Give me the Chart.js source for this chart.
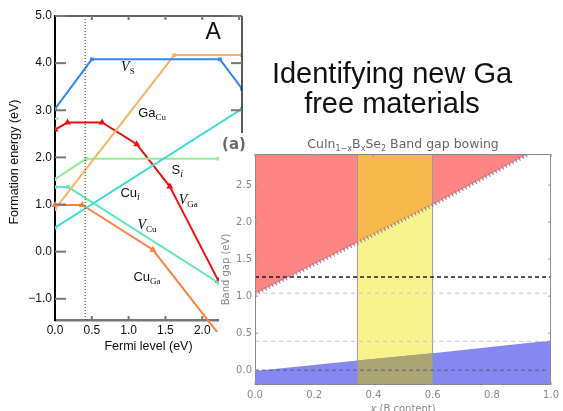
<!DOCTYPE html>
<html>
<head>
<meta charset="utf-8">
<script src="https://cdn.jsdelivr.net/npm/chart.js@4.4.1/dist/chart.umd.min.js"></script>
<style>
  html, body { margin: 0; padding: 0; background: #fff; }
  body { width: 563px; height: 411px; position: relative; overflow: hidden; font-family: "Liberation Sans", Arial, sans-serif; }
  #leftBox { position: absolute; left: 0; top: 0; width: 250px; height: 360px; }
  #rightBox { position: absolute; left: 219px; top: 133px; width: 344px; height: 278px; background: #fff; }
  .headline { position: absolute; left: 242px; top: 58px; width: 300px; text-align: center; font-size: 29px; line-height: 30px; color: #111; }
</style>
</head>
<body>
<div id="leftBox"><canvas id="defectChart" width="250" height="360"></canvas></div>
<div class="headline">Identifying new Ga<br>free materials</div>
<div id="rightBox"><canvas id="gapChart" width="344" height="278"></canvas></div>

<script>
// ---- left panel: defect formation energies vs Fermi level ----
const fermiTicks = [0, 0.5, 1.0, 1.5, 2.0, 2.5];
const energyTicks = [-1, 0, 1, 2, 3, 4, 5];
const fermiRange = [0, 2.54];
const energyRange = [-1.45, 5.0];
const fermiMarker = 0.41;

const vS   = [[0, 3.03], [0.5, 4.08], [2.24, 4.08], [2.54, 3.46]];
const gaCu = [[0, 0.9], [1.62, 4.17], [2.54, 4.17]];
const vGa  = [[0, 2.59], [0.17, 2.74], [0.64, 2.74], [1.11, 2.28], [1.56, 1.38], [2.22, -0.62]];
const sI   = [[0, 1.54], [0.42, 1.97], [2.22, 1.97]];
const vCu  = [[0, 1.37], [0.18, 1.37], [2.22, -0.66]];
const cuI  = [[0, 0.51], [2.54, 3.03]];
const cuGa = [[0, 0.99], [0.37, 0.99], [1.33, 0.04], [2.2, -1.7]];
const strayMark = [[0, 2.82]];

// ---- right panel: CuIn(1-x)B(x)Se2 band gap bowing ----
const xContent = [0, 0.346, 0.6, 1.0];
const gapUpper = [1.03, 1.72, 2.23, 3.08];
const gapLower = [-0.01, 0.13, 0.23, 0.40];
const bandWindow = [0.346, 0.6];
const refLevels = [1.26, 1.04, 0.39, 0.0];
const contentTicks = [0, 0.2, 0.4, 0.6, 0.8, 1.0];
const gapTicks = [0, 0.5, 1.0, 1.5, 2.0, 2.5];
const contentRange = [0, 1];
const gapRange = [-0.2, 2.92];

const SANS = '"Liberation Sans", Arial, sans-serif';
const SERIF = '"Liberation Serif", "Times New Roman", serif';
const MPL = '"DejaVu Sans", sans-serif';

Chart.defaults.font.family = SANS;
Chart.defaults.animation = false;

function pts(arr) { return arr.map(p => ({ x: p[0], y: p[1] })); }

function line(ctx, x1, y1, x2, y2) {
  ctx.beginPath(); ctx.moveTo(x1, y1); ctx.lineTo(x2, y2); ctx.stroke();
}

// text with subscript pieces: [text, font, dy]
function drawRich(ctx, parts, cx, baseY, color) {
  let w = 0;
  parts.forEach(p => { ctx.font = p[1]; w += ctx.measureText(p[0]).width; });
  let px = cx - w / 2;
  ctx.fillStyle = color || '#111';
  ctx.textAlign = 'left';
  ctx.textBaseline = 'alphabetic';
  parts.forEach(p => {
    ctx.font = p[1];
    ctx.fillText(p[0], px, baseY + (p[2] || 0));
    px += ctx.measureText(p[0]).width;
  });
}

function defectLine(arr, color, extra) {
  return Object.assign({
    data: pts(arr), borderColor: color, backgroundColor: color,
    borderWidth: 2, pointRadius: 1.2, pointHoverRadius: 1.2, pointStyle: 'rect', fill: false, tension: 0
  }, extra || {});
}

const italicV = 'italic 14px ' + SERIF;
const subSerif = '9px ' + SERIF;
const body = '13px ' + SANS;
const defectLabels = [
  { x: 0.99, y: 3.93, parts: [['V', italicV], ['S', subSerif, 3]] },
  { x: 1.32, y: 2.97, parts: [['Ga', body], ['Cu', subSerif, 3]] },
  { x: 1.66, y: 1.75, parts: [['S', body], ['i', 'italic 10px ' + SERIF, 3]] },
  { x: 1.02, y: 1.26, parts: [['Cu', body], ['i', 'italic 10px ' + SERIF, 3]] },
  { x: 1.81, y: 1.11, parts: [['V', italicV], ['Ga', subSerif, 3]] },
  { x: 1.25, y: 0.58, parts: [['V', italicV], ['Cu', subSerif, 3]] },
  { x: 1.25, y: -0.51, parts: [['Cu', body], ['Ga', subSerif, 3]] },
  { x: 2.15, y: 4.62, parts: [['A', '23px ' + SANS]] }
];

const leftDecor = {
  id: 'leftDecor',
  afterDraw(chart) {
    const { ctx, chartArea: a, scales: { x, y } } = chart;
    ctx.save();
    ctx.lineWidth = 2; ctx.strokeStyle = '#666';
    line(ctx, a.left, a.top, a.right, a.top);
    ctx.lineWidth = 1.5; ctx.strokeStyle = '#222';
    line(ctx, a.right, a.top, a.right, a.bottom);
    ctx.lineWidth = 2; ctx.strokeStyle = '#777';
    y.ticks.forEach(t => {
      const py = y.getPixelForValue(t.value);
      line(ctx, a.left, py, a.left + 11, py);
      line(ctx, a.right - 11, py, a.right, py);
    });
    x.ticks.forEach(t => {
      if (t.value === 0) return;
      const px = x.getPixelForValue(t.value);
      line(ctx, px, a.top, px, a.top + 4);
      line(ctx, px, a.bottom, px, a.bottom - 4);
    });
    defectLabels.forEach(l => {
      drawRich(ctx, l.parts, x.getPixelForValue(l.x), y.getPixelForValue(l.y) + 5);
    });
    // axis titles
    ctx.font = '12.5px ' + SANS; ctx.fillStyle = '#111';
    ctx.textAlign = 'center'; ctx.textBaseline = 'middle';
    ctx.fillText('Fermi level (eV)', (a.left + a.right) / 2, 347);
    ctx.translate(15, 162); ctx.rotate(-Math.PI / 2);
    ctx.fillText('Formation energy (eV)', 0, 0);
    ctx.restore();
  }
};

new Chart(document.getElementById('defectChart'), {
  type: 'line',
  data: {
    datasets: [
      { data: [{ x: fermiMarker, y: energyRange[0] }, { x: fermiMarker, y: energyRange[1] }],
        borderColor: '#333', borderWidth: 1, borderDash: [1, 2], pointRadius: 0, fill: false },
      defectLine(vS, '#3388ee'),
      defectLine(gaCu, '#f5b562'),
      defectLine(cuI, '#3fdcd0'),
      defectLine(sI, '#96ec96'),
      defectLine(vCu, '#62e8b4'),
      defectLine(vGa, '#ee1010', { pointStyle: 'triangle', pointRadius: 2 }),
      defectLine(cuGa, '#ff8040', { pointStyle: 'triangle', pointRadius: 2, clip: false }),
      defectLine(strayMark, '#bde890', { pointStyle: 'line', pointRadius: 4, borderWidth: 2 })
    ]
  },
  options: {
    responsive: false,
    events: [],
    layout: { padding: { top: 16, right: 8, left: 0, bottom: 0 } },
    plugins: { legend: { display: false }, tooltip: { enabled: false } },
    scales: {
      x: {
        type: 'linear', min: fermiRange[0], max: fermiRange[1],
        afterBuildTicks: s => { s.ticks = fermiTicks.map(v => ({ value: v })); },
        afterFit: s => { s.height = 40; },
        grid: { display: false, drawTicks: false },
        border: { display: true, color: '#777', width: 2.5 },
        ticks: { padding: 3, color: '#111', font: { size: 12 }, autoSkip: false, maxRotation: 0,
                 callback: v => (v > 2.2 ? '' : v.toFixed(1)) }
      },
      y: {
        type: 'linear', min: energyRange[0], max: energyRange[1],
        afterBuildTicks: s => { s.ticks = energyTicks.map(v => ({ value: v })); },
        afterFit: s => { s.width = 55; },
        grid: { display: false, drawTicks: false },
        border: { display: true, color: '#000', width: 2 },
        ticks: { padding: 3, color: '#111', font: { size: 12 }, autoSkip: false,
                 callback: v => v.toFixed(1).replace('-', '\u2212') }
      }
    }
  },
  plugins: [leftDecor]
});

// ---- right panel ----
const upperPts = xContent.map((x, i) => ({ x, y: gapUpper[i] }));
const lowerPts = xContent.map((x, i) => ({ x, y: gapLower[i] }));
const inBand = p => p.x >= bandWindow[0] && p.x <= bandWindow[1];

function area(data, fill, color) {
  return { data, fill, backgroundColor: color, borderWidth: 0, borderColor: 'rgba(0,0,0,0)', pointRadius: 0 };
}
function hline(yv, color, dash, width) {
  return { data: [{ x: contentRange[0], y: yv }, { x: contentRange[1], y: yv }],
           borderColor: color, borderDash: dash, borderWidth: width, pointRadius: 0, fill: false };
}
function vline(xv) {
  return { data: [{ x: xv, y: gapRange[0] }, { x: xv, y: gapRange[1] }],
           borderColor: '#9a9a9a', borderWidth: 1, pointRadius: 0, fill: false };
}

const rightDecor = {
  id: 'rightDecor',
  afterDraw(chart) {
    const { ctx, chartArea: a, scales: { x, y } } = chart;
    ctx.save();
    ctx.strokeStyle = '#8a8a8a'; ctx.lineWidth = 1;
    ctx.strokeRect(a.left + 0.5, a.top + 0.5, a.right - a.left - 1, a.bottom - a.top - 1);
    ctx.strokeStyle = '#999';
    y.ticks.forEach(t => {
      const py = y.getPixelForValue(t.value);
      line(ctx, a.left, py, a.left + 3, py);
      line(ctx, a.right - 3, py, a.right, py);
    });
    x.ticks.forEach(t => {
      const px = x.getPixelForValue(t.value);
      line(ctx, px, a.bottom, px, a.bottom - 3);
      line(ctx, px, a.top, px, a.top + 3);
    });
    const cx = (a.left + a.right) / 2;
    drawRich(ctx, [
      ['CuIn', '12.5px ' + MPL], ['1\u2212x', '8px ' + MPL, 3], ['B', '12.5px ' + MPL],
      ['x', '8px ' + MPL, 3], ['Se', '12.5px ' + MPL], ['2', '8px ' + MPL, 3],
      [' Band gap bowing', '12.5px ' + MPL]
    ], cx, 15, '#666');
    drawRich(ctx, [['(a)', 'bold 15px ' + MPL]], 15, 16, '#6a6a6a');
    drawRich(ctx, [['x', 'italic 10px ' + MPL], [' (B content)', '10px ' + MPL]], cx, 279, '#888');
    ctx.font = '10px ' + MPL; ctx.fillStyle = '#888';
    ctx.textAlign = 'center'; ctx.textBaseline = 'middle';
    ctx.translate(7, (a.top + a.bottom) / 2); ctx.rotate(-Math.PI / 2);
    ctx.fillText('Band gap (eV)', 0, 0);
    ctx.restore();
  }
};

new Chart(document.getElementById('gapChart'), {
  type: 'line',
  data: {
    datasets: [
      { data: upperPts, borderColor: 'rgba(140,120,165,0.85)', borderWidth: 4, borderDash: [1.2, 2.6],
        pointRadius: 0, fill: false },
      hline(refLevels[0], '#222', [4, 3], 1.5),
      hline(refLevels[1], '#c8c8c8', [4, 4], 1),
      hline(refLevels[2], '#c8c8c8', [4, 4], 1),
      hline(refLevels[3], '#5a5a96', [4, 3], 1),
      vline(bandWindow[0]),
      vline(bandWindow[1]),
      area(lowerPts.filter(inBand), 'start', '#aba574'),
      area(lowerPts, 'start', '#8787f2'),
      area(upperPts.filter(inBand), 'start', '#f8f28c'),
      area(upperPts.filter(inBand), 'end', '#f7b94c'),
      area(upperPts, 'end', '#ff8585')
    ]
  },
  options: {
    responsive: false,
    events: [],
    layout: { padding: { top: 21, right: 10, left: 0, bottom: 0 } },
    plugins: { legend: { display: false }, tooltip: { enabled: false } },
    scales: {
      x: {
        type: 'linear', min: contentRange[0], max: contentRange[1],
        afterBuildTicks: s => { s.ticks = contentTicks.map(v => ({ value: v })); },
        afterFit: s => { s.height = 26; },
        grid: { display: false, drawTicks: false },
        border: { display: false },
        ticks: { padding: 4, color: '#888', font: { size: 10, family: MPL }, autoSkip: false, maxRotation: 0,
                 callback: v => v.toFixed(1) }
      },
      y: {
        type: 'linear', min: gapRange[0], max: gapRange[1],
        afterBuildTicks: s => { s.ticks = gapTicks.map(v => ({ value: v })); },
        afterFit: s => { s.width = 36; },
        grid: { display: false, drawTicks: false },
        border: { display: false },
        ticks: { padding: 3, color: '#888', font: { size: 10, family: MPL }, autoSkip: false,
                 callback: v => v.toFixed(1) }
      }
    }
  },
  plugins: [rightDecor]
});
</script>
</body>
</html>
